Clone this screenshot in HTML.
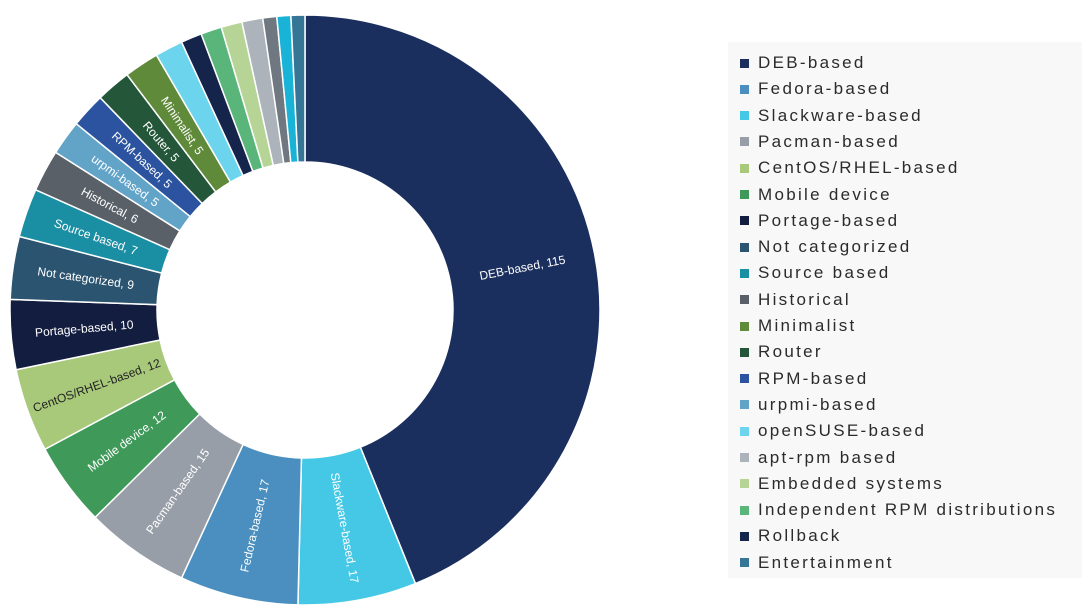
<!DOCTYPE html>
<html><head><meta charset="utf-8"><style>
html,body{margin:0;padding:0;background:#fff;width:1082px;height:612px;overflow:hidden;font-family:"Liberation Sans",sans-serif}
#legend{position:absolute;left:728px;top:42px;width:354px;height:536px;background:#f8f8f8}
.li{position:absolute;left:0;height:26px;display:flex;align-items:center;font-size:17px;letter-spacing:2.3px;color:#2b2b2b;white-space:nowrap}
.sw{width:9px;height:9px;margin-left:12px;margin-right:9px}
</style></head><body>
<svg id="chart" width="700" height="612" style="position:absolute;left:0;top:0"></svg>
<div id="legend"></div>
<script>
const categories=["DEB-based","Slackware-based","Fedora-based","Pacman-based","Mobile device","CentOS/RHEL-based","Portage-based","Not categorized","Source based","Historical","urpmi-based","RPM-based","Router","Minimalist","openSUSE-based","Rollback","Independent RPM distributions","Embedded systems","apt-rpm based","Other A","Other B","Entertainment"];
const values=[115,17,17,15,12,12,10,9,7,6,5,5,5,5,4,3,3,3,3,2,2,2];
const colors=["#1b2f5e","#45c8e6","#4a8fbf","#979ea7","#3f9a5a","#a8c97a","#131d3f","#2a5470","#1a8ea3","#5a6068","#62a4c8","#2c53a0","#24573a","#5f8a3a","#6cd4ec","#15244a","#5ab57a","#b6d495","#adb3ba","#6f7880","#1ab3d8","#357596"];
const legendOrder=["DEB-based","Fedora-based","Slackware-based","Pacman-based","CentOS/RHEL-based","Mobile device","Portage-based","Not categorized","Source based","Historical","Minimalist","Router","RPM-based","urpmi-based","openSUSE-based","apt-rpm based","Embedded systems","Independent RPM distributions","Rollback","Entertainment"];
const NS="http://www.w3.org/2000/svg";
const svg=document.getElementById('chart');
const cx=305,cy=310,R=295,r=148;
const total=values.reduce((a,b)=>a+b,0);
function pt(rad,deg){const a=deg*Math.PI/180;return [cx+rad*Math.sin(a),cy-rad*Math.cos(a)];}
let acc=0;
values.forEach((v,i)=>{
  const a0=acc/total*360,a1=(acc+v)/total*360;acc+=v;
  const large=(a1-a0)>180?1:0;
  const p0=pt(R,a0),p1=pt(R,a1),q1=pt(r,a1),q0=pt(r,a0);
  const p=document.createElementNS(NS,'path');
  p.setAttribute('d',`M${p0[0]},${p0[1]}A${R},${R} 0 ${large} 1 ${p1[0]},${p1[1]}L${q1[0]},${q1[1]}A${r},${r} 0 ${large} 0 ${q0[0]},${q0[1]}Z`);
  p.setAttribute('fill',colors[i]);p.setAttribute('stroke','#fff');p.setAttribute('stroke-width','1.5');
  
  
  svg.appendChild(p);
  if(v>=5){
    const m=(a0+a1)/2;const c=pt((R+r)/2,m);
    const rot=m<180?m-90:m-270;
    const t=document.createElementNS(NS,'text');
    t.setAttribute('x',c[0]);t.setAttribute('y',c[1]);
    t.setAttribute('text-anchor','middle');t.setAttribute('dominant-baseline','central');
    t.setAttribute('font-size','12');t.setAttribute('font-family','Liberation Sans, sans-serif');
    t.setAttribute('fill',categories[i]==="CentOS/RHEL-based"?'#222':'#fff');
    t.setAttribute('transform',`rotate(${rot} ${c[0]} ${c[1]})`);
    t.textContent=categories[i]+', '+v;
    
    
    svg.appendChild(t);
  }
});
const lg=document.getElementById('legend');
legendOrder.forEach((name,k)=>{
  const d=document.createElement('div');d.className='li';d.style.top=(8+k*26.3)+'px';
  
  
  const s=document.createElement('span');s.className='sw';s.style.background=colors[categories.indexOf(name)];
  
  
  d.appendChild(s);d.appendChild(document.createTextNode(name));lg.appendChild(d);
});
</script>
</body></html>
